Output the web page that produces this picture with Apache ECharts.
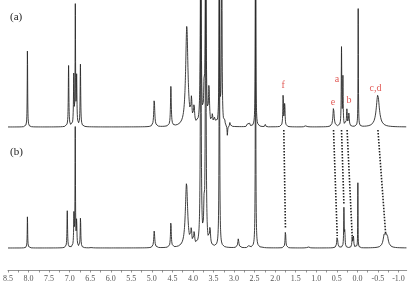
<!DOCTYPE html>
<html><head><meta charset="utf-8">
<script src="https://cdn.jsdelivr.net/npm/echarts@6/dist/echarts.min.js"></script>
<style>html,body{margin:0;padding:0;background:#fff}#c{width:416px;height:291px}</style>
</head><body><div id="c"></div>
<script>
// Peaks: [ppm, height (arbitrary units), half-width (ppm)]
const peaksA = [
  [8.027, 78, 0.006],
  [7.026, 61, 0.008],
  [6.900, 50, 0.008],
  [6.862, 118, 0.006],
  [6.830, 48, 0.008],
  [6.738, 62, 0.008],
  [4.942, 28, 0.014],
  [4.537, 40, 0.011],
  [4.150, 100, 0.033],
  [4.036, 22, 0.014],
  [3.973, 18, 0.014],
  [3.810, 260, 0.010],
  [3.730, 30, 0.012],
  [3.690, 260, 0.010],
  [3.610, 38, 0.014],
  [3.527, 10, 0.012],
  [3.470, 8, 0.012],
  [3.357, 260, 0.007],
  [3.300, 260, 0.007],
  [3.230, 6, 0.008],
  [3.163, -10, 0.008],
  [3.100, 4, 0.008],
  [2.477, 260, 0.006],
  [2.670, 3, 0.01],
  [2.620, 3, 0.01],
  [2.235, 3, 0.01],
  [2.200, -2, 0.01],
  [1.806, 32, 0.009],
  [1.767, 24, 0.009],
  [1.250, 1.5, 0.02],
  [0.580, 19, 0.018],
  [0.386, 78, 0.007],
  [0.352, 48, 0.007],
  [0.255, 17, 0.011],
  [0.206, 13, 0.011],
  [-0.020, 118, 0.005],
  [-0.497, 32, 0.045]
];
const peaksB = [
  [8.027, 32, 0.006],
  [7.058, 37, 0.008],
  [6.896, 32, 0.008],
  [6.864, 118, 0.006],
  [6.830, 26, 0.008],
  [6.736, 31, 0.008],
  [6.460, 1.5, 0.01],
  [4.942, 17, 0.014],
  [4.537, 26, 0.011],
  [4.157, 64, 0.033],
  [4.040, 15, 0.014],
  [3.970, 13, 0.014],
  [3.810, 320, 0.010],
  [3.730, 30, 0.012],
  [3.690, 320, 0.010],
  [3.585, 18, 0.014],
  [3.357, 320, 0.007],
  [2.896, 9, 0.015],
  [2.640, 2, 0.01],
  [2.477, 320, 0.006],
  [2.300, 1.5, 0.01],
  [1.750, 18, 0.010],
  [1.200, 1.5, 0.02],
  [0.490, 12, 0.014],
  [0.327, 40, 0.007],
  [0.305, 16, 0.007],
  [0.126, 11, 0.009],
  [0.095, 11, 0.009],
  [-0.012, 65, 0.004],
  [-0.657, 12, 0.035],
  [-0.720, 12, 0.035]
];
// Assignment labels on spectrum (a): [name, ppm, height above the axis]
const labelNames = ['f', 'e', 'a', 'b', 'c,d'];
const labelPpm = [1.806, 0.594, 0.497, 0.206, -0.44];
const labelVal = [185, 168, 191, 170, 182];
// Correlation lines: ppm in (a) -> ppm in (b), end height above axis
const linkTopPpm = [1.79, 0.58, 0.386, 0.25, -0.50];
const linkBotPpm = [1.75, 0.49, 0.327, 0.126, -0.69];
const linkEndVal = [42, 34, 65, 34, 35];
const tickLabels = [8.5,8.0,7.5,7.0,6.5,6.0,5.5,5.0,4.5,4.0,3.5,3.0,2.5,2.0,1.5,1.0,0.5,0.0,-0.5,-1.0];

const X_MIN = -1.2, X_MAX = 8.5, STEP = 0.002;
const OFF_A = 143, OFF_B = 22, LINK_START = 140;
const SERIF = '"Liberation Serif", "DejaVu Serif", serif';

function trace(peaks, offset) {
  const out = [];
  const n = Math.round((X_MAX - X_MIN) / STEP);
  for (let i = 0; i <= n; i++) {
    const x = X_MAX - i * STEP;
    let y = offset;
    for (const p of peaks) {
      const d = (x - p[0]) / p[2];
      y += p[1] / (1 + d * d);
    }
    out.push([x, y]);
  }
  return out;
}

const minorTicks = [];
for (let v = 8.5; v >= -1.0001; v -= 0.25) minorTicks.push(Math.round(v * 100) / 100);

const series = [
  {type:'line', data: trace(peaksA, OFF_A), symbol:'none', clip:true,
   lineStyle:{color:'#2a2a2a', width:0.9}, silent:true},
  {type:'line', data: trace(peaksB, OFF_B), symbol:'none', clip:true,
   lineStyle:{color:'#2a2a2a', width:0.9}, silent:true}
];
for (let i = 0; i < linkTopPpm.length; i++) {
  series.push({type:'line', data:[[linkTopPpm[i], LINK_START],[linkBotPpm[i], linkEndVal[i]]],
    symbol:'none', lineStyle:{color:'#222', width:1.6, type:[1.5,1.5]}, silent:true});
}
series.push({type:'scatter', symbolSize:0, silent:true,
  data: labelNames.map((n,i)=>({name:n, value:[labelPpm[i], labelVal[i]]})),
  label:{show:true, position:'inside', formatter:p=>p.name, color:'#d9302a',
    fontFamily:SERIF, fontSize:10}});

const chart = echarts.init(document.getElementById('c'), null, {renderer:'canvas'});
chart.setOption({
  animation:false,
  grid:{left:6.5, right:9.3, top:0, bottom:21},
  xAxis:{type:'value', inverse:true, min:X_MIN, max:X_MAX,
    splitLine:{show:false},
    axisLine:{lineStyle:{color:'#777', width:0.8}},
    axisTick:{customValues: minorTicks, length:2.5, lineStyle:{color:'#777', width:0.8}},
    axisLabel:{customValues: tickLabels, formatter:v=>v.toFixed(1), color:'#555',
      fontFamily:SERIF, fontSize:8, margin:5}},
  yAxis:{type:'value', min:0, max:270, show:false},
  graphic:[
    {type:'text', left:10, top:12, style:{text:'(a)', font:'11px "Liberation Serif"', fill:'#222'}},
    {type:'text', left:10, top:147, style:{text:'(b)', font:'11px "Liberation Serif"', fill:'#222'}}
  ],
  series: series
});
</script></body></html>
